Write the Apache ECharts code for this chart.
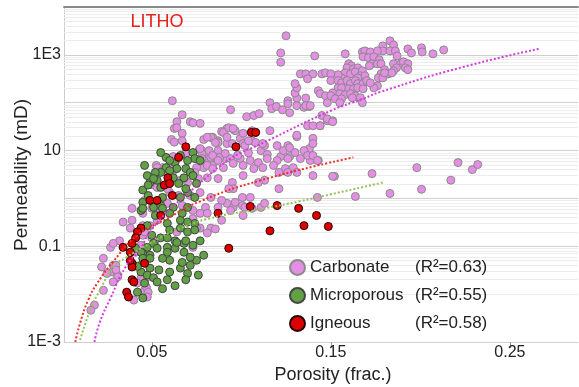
<!DOCTYPE html>
<html><head><meta charset="utf-8">
<script src="https://cdn.jsdelivr.net/npm/echarts@6/dist/echarts.min.js"></script>
<style>html,body{margin:0;padding:0;background:#fff}#c{width:579px;height:387px}</style>
</head><body><div id="c"></div>
<script>
const categories = ['Carbonate', 'Microporous', 'Igneous'];
const rSquared = ['0.63', '0.55', '0.58'];
const xTickValues = [0.05, 0.15, 0.25];
const yTickValues = [0.001, 0.1, 10, 1000];
const yTickLabels = ['1E-3', '0.1', '10', '1E3'];

// [porosity (frac.), permeability (mD)]
const carbonate = [
[0.0615,110],[0.067,56],[0.0715,40],[0.064,40],[0.0626,29],[0.064,30],[0.067,23],[0.061,17],[0.0626,15],[0.067,16],[0.0765,10.5],[0.069,8.7],[0.062,7.5],[0.0525,4.9],[0.073,38],
[0.125,2500],[0.122,1100],[0.122,700],[0.141,950],[0.094,71],[0.103,51],[0.107,54],[0.110,59],[0.116,100],[0.117,75],[0.1196,83],[0.123,71],[0.127,62],[0.126,110],[0.126,95],[0.131,87],[0.131,125],[0.130,160],[0.131,205],[0.130,250],[0.133,400],[0.136,400],[0.140,400],[0.137,316],[0.136,125],[0.135,80],[0.138,83],[0.145,400],[0.147,420],[0.143,178],[0.144,154],[0.147,140],[0.148,100],[0.148,42],[0.144,33],[0.116,26],[0.089,25],[0.092,29],[0.096,27],[0.079,17],[0.084,18],[0.087,16],[0.0994,18],[0.101,14],[0.106,16],[0.131,19.5],[0.120,12.7],[0.140,18],[0.138,11],[0.127,7.5],[0.133,6.8],[0.087,10],[0.0855,6.8],[0.091,6.8],[0.098,8],[0.104,9],[0.111,10],[0.1145,8.3],[0.122,7.5],[0.080,6.8],[0.078,10],[0.1385,6.2],[0.143,6.2],[0.126,12.7],[0.113,12.7],
[0.183,1960],[0.179,1540],[0.185,1615],[0.179,1210],[0.183,1210],[0.186,1210],[0.187,950],[0.193,1330],[0.195,1100],[0.2006,1400],[0.201,1150],[0.207,1050],[0.213,1270],[0.158,1050],[0.1676,1150],[0.169,1210],[0.172,1150],[0.176,1210],[0.168,910],[0.171,870],[0.174,910],[0.177,790],[0.173,650],[0.176,650],[0.178,650],[0.1715,590],[0.185,650],[0.189,650],[0.1905,715],[0.193,650],[0.1916,535],[0.1866,535],[0.193,490],[0.185,465],[0.180,490],[0.182,400],[0.184,420],[0.178,400],[0.1765,330],[0.179,330],[0.180,420],[0.176,225],[0.174,205],[0.160,650],[0.1615,590],[0.159,535],[0.1626,510],[0.165,535],[0.158,420],[0.161,400],[0.1637,440],[0.1676,465],[0.1665,365],[0.169,365],[0.165,330],[0.156,330],[0.154,385],[0.150,400],[0.150,290],[0.154,290],[0.156,260],[0.159,290],[0.161,250],[0.1637,290],[0.165,250],[0.168,250],[0.170,290],[0.172,260],[0.154,205],[0.156,205],[0.160,195],[0.1626,195],[0.165,205],[0.168,195],[0.151,160],[0.155,154],[0.158,147],[0.161,154],[0.1637,140],[0.150,140],[0.1525,121],[0.156,121],[0.162,127],[0.1665,127],[0.1676,100],[0.155,100],[0.151,42],
[0.221,5.6],[0.229,4.0],[0.232,5.1],[0.217,2.4],[0.198,4.4],[0.2006,1.55],[0.183,1.27],[0.173,3.3],[0.1637,1.1],[0.152,2.9],
[0.145,54],[0.148,46],[0.151,40],[0.137,33],[0.140,33],[0.144,33],[0.136,87],[0.1385,87],
[0.077,37],[0.090,24],[0.093,30],[0.0966,26],[0.101,23],[0.106,26],[0.108,24],[0.131,21],[0.140,14],
[0.084,19],[0.087,14.7],[0.092,14],[0.095,14],[0.102,12.7],[0.108,14.7],[0.112,14],[0.1235,10],[0.127,11.5],[0.130,9.1],[0.135,10],[0.137,7.9],[0.140,7.9],[0.1425,6.2],[0.126,6.8],[0.120,6.2],[0.1145,6.8],[0.1095,5.6],[0.105,6.2],[0.0994,6.8],[0.094,6.8],[0.088,7.2],[0.083,7.2],[0.078,8.7],
[0.079,4.4],[0.084,4.9],[0.090,4.4],[0.0955,5.4],[0.101,4.9],[0.107,4.2],[0.112,4.4],[0.118,4.9],[0.1246,4.2],[0.129,4.4],[0.121,3.5],[0.126,3.5],[0.131,3.5],[0.140,3.0],[0.151,2.9],[0.1425,1.05],[0.121,1.6],[0.113,2.4],[0.1095,2.15],[0.087,2.6],[0.081,2.7],[0.095,2.15],[0.101,3.0],[0.0955,1.6],[0.1006,1.05],[0.092,0.79],[0.0955,0.65],[0.1006,0.71],[0.106,0.62],[0.111,0.65],[0.113,0.79],[0.101,0.44],[0.080,0.65],[0.077,0.49],[0.083,0.24],[0.0855,0.23],[0.089,0.35],[0.077,0.24],
[0.083,19],[0.081,19],[0.0855,14.7],[0.092,19],[0.0955,29],[0.104,16],[0.077,11],[0.082,10],[0.084,7.9],[0.087,6.2],[0.091,8.7],[0.098,7.9],[0.078,6.8],[0.081,4.9],[0.075,4.4],[0.084,4.2],
[0.056,4.4],[0.0615,3.5],[0.066,2.4],[0.070,2.15],[0.076,2.6],[0.051,1.9],[0.060,1.33],[0.065,1.15],[0.077,1.33],[0.083,1.05],[0.093,1.6],[0.089,0.91],[0.0966,0.83],[0.105,1.05],[0.102,0.65],[0.094,0.56],[0.087,0.65],[0.081,0.49],[0.073,0.56],[0.067,0.71],[0.0587,0.79],[0.055,0.56],[0.045,0.49],[0.039,0.62],[0.038,0.24],[0.044,0.24],[0.045,0.17],[0.053,0.35],[0.073,0.38],[0.075,0.24],[0.081,0.19],[0.064,0.20],[0.050,0.15],[0.044,0.105],[0.032,0.13],[0.027,0.095],[0.0285,0.115],[0.073,0.095],
[0.053,4.4],[0.053,1.7],[0.0587,1.6],[0.046,0.91],[0.050,0.62],[0.034,0.32],[0.039,0.35],[0.045,0.27],[0.049,0.27],[0.046,0.20],[0.052,0.13],[0.023,0.056],[0.022,0.037],[0.0285,0.040],[0.028,0.029],[0.044,0.022],[0.042,0.017],[0.023,0.012],[0.031,0.025],[0.046,0.012],[0.0715,1.15],[0.068,2.6],[0.074,3.5],[0.056,3.8],[0.062,4.2],
[0.025,0.027],[0.030,0.040],[0.030,0.032],[0.031,0.023],[0.0285,0.018],[0.018,0.0059],[0.016,0.0046],[0.0475,0.023],[0.047,0.014],[0.048,0.011],[0.0475,0.0087],[0.040,0.0075],[0.041,0.075]
];

const microporous = [
[0.058,7.2],[0.073,9.1],[0.074,6.8],[0.063,5.6],[0.046,4.9],[0.066,7.9],[0.060,6.2],[0.070,6.2],[0.064,4.2],[0.069,4.2],[0.0715,3.5],[0.058,4.4],[0.055,3.5],[0.052,3.5],[0.062,2.7],[0.068,2.7],[0.073,3.0],[0.075,2.05],[0.053,2.4],[0.049,2.15],[0.0475,3.0],[0.055,1.7],[0.059,2.05],[0.065,2.05],[0.045,1.5],[0.048,1.15],[0.045,0.83],[0.056,1.05],[0.070,1.33],[0.074,1.05],[0.070,0.65],[0.062,0.65],[0.051,0.65],[0.052,0.44],[0.044,0.56],[0.0475,0.27],[0.0587,0.30],[0.066,0.35],[0.074,0.30],[0.070,0.20],[0.063,0.13],[0.055,0.15],[0.051,0.115],[0.0475,0.095],[0.0587,0.095],[0.068,0.115],[0.060,3.8],[0.048,1.9],[0.055,0.71],[0.045,0.62],[0.050,0.17],[0.045,0.071],[0.049,0.065],[0.053,0.091],[0.0587,0.075],[0.063,0.091],[0.068,0.075],[0.060,0.051],[0.056,0.056],[0.045,0.046],[0.040,0.040],[0.044,0.029],[0.049,0.035],[0.054,0.032],[0.060,0.029],[0.066,0.035],[0.0715,0.040],[0.075,0.051],[0.070,0.027],[0.0475,0.025],[0.051,0.022],[0.0587,0.020],[0.046,0.017],[0.053,0.018],[0.042,0.011],[0.044,0.075],[0.041,0.091],[0.067,0.046],[0.0715,0.059],[0.073,0.105],[0.069,0.13],[0.064,0.12],[0.0587,0.15],[0.060,0.22],[0.066,0.24],[0.070,0.32],[0.074,0.22],[0.067,0.49],[0.060,0.49],[0.056,0.62],[0.066,1.05],[0.069,1.6],[0.051,2.6],[0.045,0.0083],[0.042,0.038],[0.045,0.056],[0.049,0.056],[0.063,0.015],[0.056,0.013],[0.069,0.020],[0.077,0.13],[0.079,0.065],[0.076,0.025],[0.055,9.1],[0.077,6.2]
];

const igneous = [
[0.069,12],[0.065,7.2],[0.1056,24],[0.108,24],[0.097,12],[0.057,1.9],[0.049,0.91],[0.053,0.91],[0.059,2.7],[0.060,2.05],[0.044,0.24],[0.042,0.20],[0.041,0.15],[0.039,0.115],[0.038,0.075],[0.039,0.044],[0.039,0.037],[0.039,0.020],[0.036,0.011],[0.037,0.0087],[0.034,0.095],[0.087,0.49],[0.105,0.68],[0.120,0.71],[0.132,0.62],[0.142,0.44],[0.135,0.27],[0.1486,0.26],[0.116,0.21],[0.093,0.091],[0.038,0.051],[0.040,0.018],[0.046,0.044],[0.055,0.44],[0.0615,1.15]
];

// fitted trend lines
const carbonateTrend = [[0.018,0.001],[0.021,0.0026],[0.027,0.0083],[0.035,0.035],[0.044,0.095],[0.049,0.2],[0.060,0.58],[0.077,2.1],[0.094,6.8],[0.111,13.8],[0.150,68],[0.168,121],[0.178,170],[0.222,535],[0.266,1330]];
const microporousTrend = [[0.010,0.0011],[0.0156,0.0046],[0.021,0.012],[0.0285,0.037],[0.035,0.056],[0.049,0.115],[0.066,0.24],[0.087,0.42],[0.111,0.6],[0.133,0.88],[0.150,1.22],[0.179,2.15]];
const igneousTrend = [[0.0073,0.001],[0.010,0.0025],[0.0145,0.0075],[0.0196,0.017],[0.0285,0.048],[0.042,0.17],[0.0587,0.38],[0.077,0.87],[0.111,2.4],[0.1626,7.2]];

const FONT = '"Liberation Sans", Arial, sans-serif';
const minorValues = [];
for (let e = -3; e <= 3; e++) {
  for (let m = 2; m <= 9; m++) minorValues.push(Number((m * Math.pow(10, e)).toPrecision(3)));
}

const chart = echarts.init(document.getElementById('c'), null, {renderer: 'canvas'});
chart.setOption({
  animation: false,
  backgroundColor: '#fff',
  textStyle: {fontFamily: FONT},
  grid: {left: 64, top: 7, right: 1, bottom: 45, containLabel: false},
  xAxis: [{
    type: 'value', min: 0.001, max: 0.288,
    axisLine: {show: true, onZero: false, lineStyle: {color: '#d0d0d0'}},
    axisTick: {show: true, customValues: xTickValues, length: 6, lineStyle: {color: '#999'}},
    axisLabel: {customValues: xTickValues, fontSize: 16, color: '#222', margin: 3, fontFamily: FONT,
      formatter: v => String(v)},
    splitLine: {show: false}
  }, {
    type: 'value', position: 'top', min: 0.001, max: 0.288,
    axisLine: {show: true, onZero: false, lineStyle: {color: '#8a8a8a', width: 2}},
    axisTick: {show: false}, axisLabel: {show: false}, splitLine: {show: false}
  }],
  yAxis: {
    type: 'log', logBase: 10, min: 0.001, max: 10000, splitNumber: 7,
    axisLine: {show: true, lineStyle: {color: '#cccccc'}},
    axisTick: {show: false},
    axisLabel: {fontSize: 16, color: '#222', margin: 3, fontFamily: FONT,
      formatter: v => {
        for (let i = 0; i < yTickValues.length; i++) {
          if (Math.abs(Math.log10(v) - Math.log10(yTickValues[i])) < 1e-6) return yTickLabels[i];
        }
        return '';
      }},
    splitLine: {show: true, lineStyle: {color: '#cfcfcf', width: 1}}
  },
  legend: {
    data: categories, orient: 'vertical', left: 284, top: 254,
    itemWidth: 15, itemHeight: 15, itemGap: 11, icon: 'circle',
    textStyle: {fontSize: 17, color: '#222', fontFamily: FONT, lineHeight: 15,
      rich: {n: {width: 105, fontSize: 17, lineHeight: 15, fontFamily: FONT, color: '#222'},
             r: {fontSize: 17, lineHeight: 15, fontFamily: FONT, color: '#222'}}},
    formatter: name => '{n|' + name + '}{r|(R²=' + rSquared[categories.indexOf(name)] + ')}'
  },
  graphic: [
    {type: 'text', z: 100, x: 157, y: 22,
      style: {text: 'LITHO', fill: '#e8201c', font: 'normal 18px "Liberation Sans", Arial, sans-serif', align: 'center', verticalAlign: 'middle'}},
    {type: 'text', z: 100, x: 22, y: 175, rotation: Math.PI / 2,
      style: {text: 'Permeability (mD)', fill: '#222', font: 'normal 19px "Liberation Sans", Arial, sans-serif', align: 'center', verticalAlign: 'middle'}},
    {type: 'text', z: 100, x: 333, y: 375,
      style: {text: 'Porosity (frac.)', fill: '#222', font: 'normal 18px "Liberation Sans", Arial, sans-serif', align: 'center', verticalAlign: 'middle'}}
  ],
  series: [
    {type: 'line', name: 'grid', data: [], silent: true,
      markLine: {silent: true, symbol: 'none', z: 1, label: {show: false}, animation: false,
        lineStyle: {color: '#ececec', type: 'solid', width: 1},
        emphasis: {disabled: true},
        data: minorValues.map(v => ({yAxis: v}))}},
    {type: 'scatter', name: categories[0], data: carbonate, symbolSize: 8, z: 2,
      itemStyle: {color: '#e48ee4', borderColor: '#8a8a8a', borderWidth: 1, opacity: 1}},
    {type: 'scatter', name: categories[1], data: microporous, symbolSize: 8, z: 2,
      itemStyle: {color: '#62a045', borderColor: '#444', borderWidth: 1, opacity: 1}},
    {type: 'scatter', name: categories[2], data: igneous, symbolSize: 8, z: 2,
      itemStyle: {color: '#dd0000', borderColor: '#2a0000', borderWidth: 1, opacity: 1}},
    {type: 'line', name: 'carbonateTrend', data: carbonateTrend, smooth: true, showSymbol: false, z: 5, silent: true,
      lineStyle: {color: '#d33ddb', width: 2, type: [2, 2]}},
    {type: 'line', name: 'microporousTrend', data: microporousTrend, smooth: true, showSymbol: false, z: 5, silent: true,
      lineStyle: {color: '#94c05a', width: 2, type: [2, 2]}},
    {type: 'line', name: 'igneousTrend', data: igneousTrend, smooth: true, showSymbol: false, z: 5, silent: true,
      lineStyle: {color: '#e8322a', width: 2, type: [2, 2]}}
  ]
});
</script>
</body></html>
